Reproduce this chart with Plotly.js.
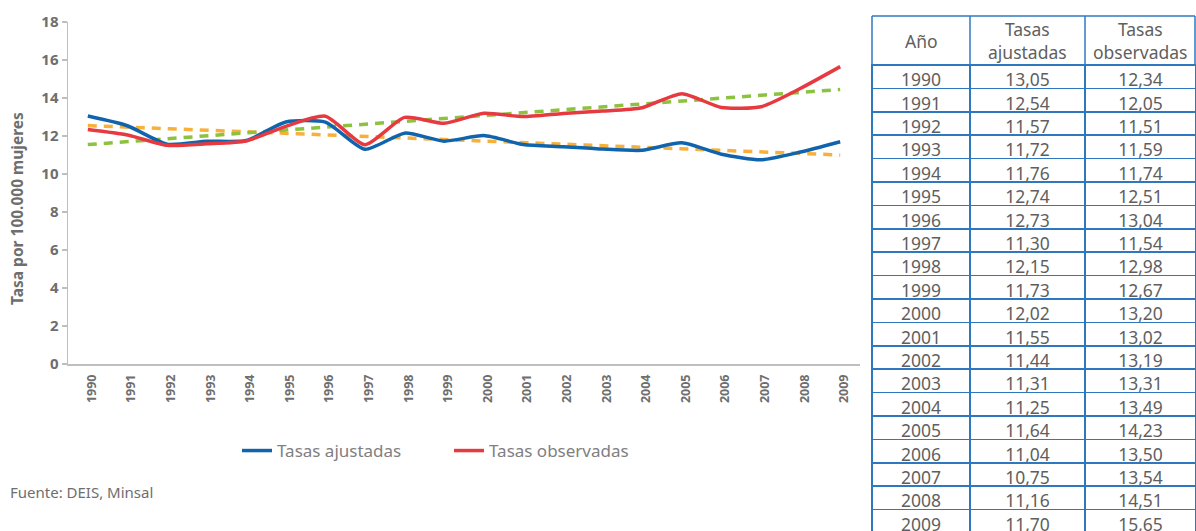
<!DOCTYPE html>
<html>
<head>
<meta charset="utf-8">
<script src="https://cdn.plot.ly/plotly-3.0.1.min.js"></script>
<style>html,body{margin:0;padding:0;background:#fff;}#chart{width:1196px;height:531px;}</style>
</head>
<body>
<div id="chart"></div>
<script>
const years = ['1990','1991','1992','1993','1994','1995','1996','1997','1998','1999','2000','2001','2002','2003','2004','2005','2006','2007','2008','2009'];
const ajustadas = [13.05,12.54,11.57,11.72,11.76,12.74,12.73,11.30,12.15,11.73,12.02,11.55,11.44,11.31,11.25,11.64,11.04,10.75,11.16,11.70];
const observadas = [12.34,12.05,11.51,11.59,11.74,12.51,13.04,11.54,12.98,12.67,13.20,13.02,13.19,13.31,13.49,14.23,13.50,13.54,14.51,15.65];
const trendYears = ['1990','2009'];
const trendAjustadas = [12.55, 11.0];
const trendObservadas = [11.55, 14.45];
const yTicks = [0,2,4,6,8,10,12,14,16,18];
const headers = ['Año','Tasas<br>ajustadas','Tasas<br>observadas'];

const fmt = v => v.toFixed(2).replace('.', ',');
const W = 1196, H = 531;
const gray = '#6e6e6e';
const tblGray = '#5f5f5f';
const border = '#2f78c0';
const font = 'Noto Sans, Open Sans, sans-serif';

// table geometry (pixels)
const colX = [872, 970, 1085, 1195];
const headTop = 16, headBot = 65;

const colA = ajustadas.map(fmt), colO = observadas.map(fmt);
const cellStyle = {align:'center', height:23.4, line:{color:border, width:1.5}, fill:{color:'#ffffff'},
  font:{family:font, size:17.5, color:tblGray}};

const traces = [
  {x: trendYears, y: trendAjustadas, type:'scatter', mode:'lines', showlegend:false, hoverinfo:'skip',
   line:{color:'#f7b13a', width:3.5, dash:'9px,7px'}},
  {x: trendYears, y: trendObservadas, type:'scatter', mode:'lines', showlegend:false, hoverinfo:'skip',
   line:{color:'#8cc23f', width:3.5, dash:'9px,7px'}},
  {x: years, y: ajustadas, type:'scatter', mode:'lines', name:'Tasas ajustadas',
   line:{color:'#0f64ad', width:3.5, shape:'spline', smoothing:0.6}},
  {x: years, y: observadas, type:'scatter', mode:'lines', name:'Tasas observadas',
   line:{color:'#e63a40', width:3.5, shape:'spline', smoothing:0.6}},
  {type:'table', domain:{x:[colX[0]/W, 1], y:[0, 1-headBot/H]},
   columnwidth:[98,115,111],
   // the first data row is used as the table's header row; the two-line column titles are drawn above it
   header:Object.assign({values:[years[0], colA[0], colO[0]]}, cellStyle),
   cells:Object.assign({values:[years.slice(1), colA.slice(1), colO.slice(1)]}, cellStyle)}
];

const shapes = [
  {type:'line', xref:'paper', yref:'paper', x0:colX[0]/W, x1:colX[3]/W, y0:1-headTop/H, y1:1-headTop/H, line:{color:border, width:1.5}},
  {type:'line', xref:'paper', yref:'paper', x0:colX[0]/W, x1:colX[3]/W, y0:1-headBot/H, y1:1-headBot/H, line:{color:border, width:1.5}}
].concat(colX.map(x => ({type:'line', xref:'paper', yref:'paper', x0:x/W, x1:x/W, y0:1-headTop/H, y1:1-headBot/H, line:{color:border, width:1.5}})));

const headerAnn = headers.map((t, i) => ({
  text:t, xref:'paper', yref:'paper', x:(colX[i]+colX[i+1])/2/W, y:1-(headTop+headBot)/2/H,
  xanchor:'center', yanchor:'middle', showarrow:false, align:'center',
  font:{family:font, size:17.5, color:tblGray}
}));

const layout = {
  width: W, height: H,
  margin:{l:0, r:0, t:0, b:0},
  paper_bgcolor:'#fff', plot_bgcolor:'#fff',
  font:{family:font, color:gray},
  showlegend:true,
  legend:{orientation:'h', x:237/W, xanchor:'left', y:1-451/H, yanchor:'middle',
    font:{size:17, color:'#808080'}, entrywidth:167, entrywidthmode:'pixels'},
  xaxis:{domain:[68/W, 860/W], type:'category', categoryorder:'array', categoryarray:years, range:[-0.5, 19.5],
    showline:true, linecolor:'#bfbfbf', linewidth:1.5, showgrid:false, zeroline:false,
    tickangle:-90, tickfont:{size:12.5, color:gray, weight:'bold'}, ticks:'', ticklabelshift:4, ticklabelstandoff:4,
    fixedrange:true},
  yaxis:{domain:[(H-364)/H, (H-22)/H], range:[0,18], tickvals:yTicks,
    showline:true, linecolor:'#bfbfbf', linewidth:1.5, showgrid:false, zeroline:false,
    ticks:'outside', ticklen:5, tickcolor:'#bfbfbf', tickwidth:1.5,
    tickfont:{size:15, color:gray, weight:'bold'}, fixedrange:true},
  shapes: shapes,
  annotations:[
    {text:'<b>Tasa por 100.000 mujeres</b>', xref:'paper', yref:'paper', x:17/W, y:1-209/H,
     textangle:-90, showarrow:false, font:{size:15.5, color:gray}, xanchor:'center', yanchor:'middle'},
    {text:'Fuente: DEIS, Minsal', xref:'paper', yref:'paper', x:8/W, y:1-492/H,
     showarrow:false, font:{size:15, color:gray}, xanchor:'left', yanchor:'middle'}
  ].concat(headerAnn)
};

Plotly.newPlot('chart', traces, layout, {displayModeBar:false, staticPlot:true});
</script>
</body>
</html>
